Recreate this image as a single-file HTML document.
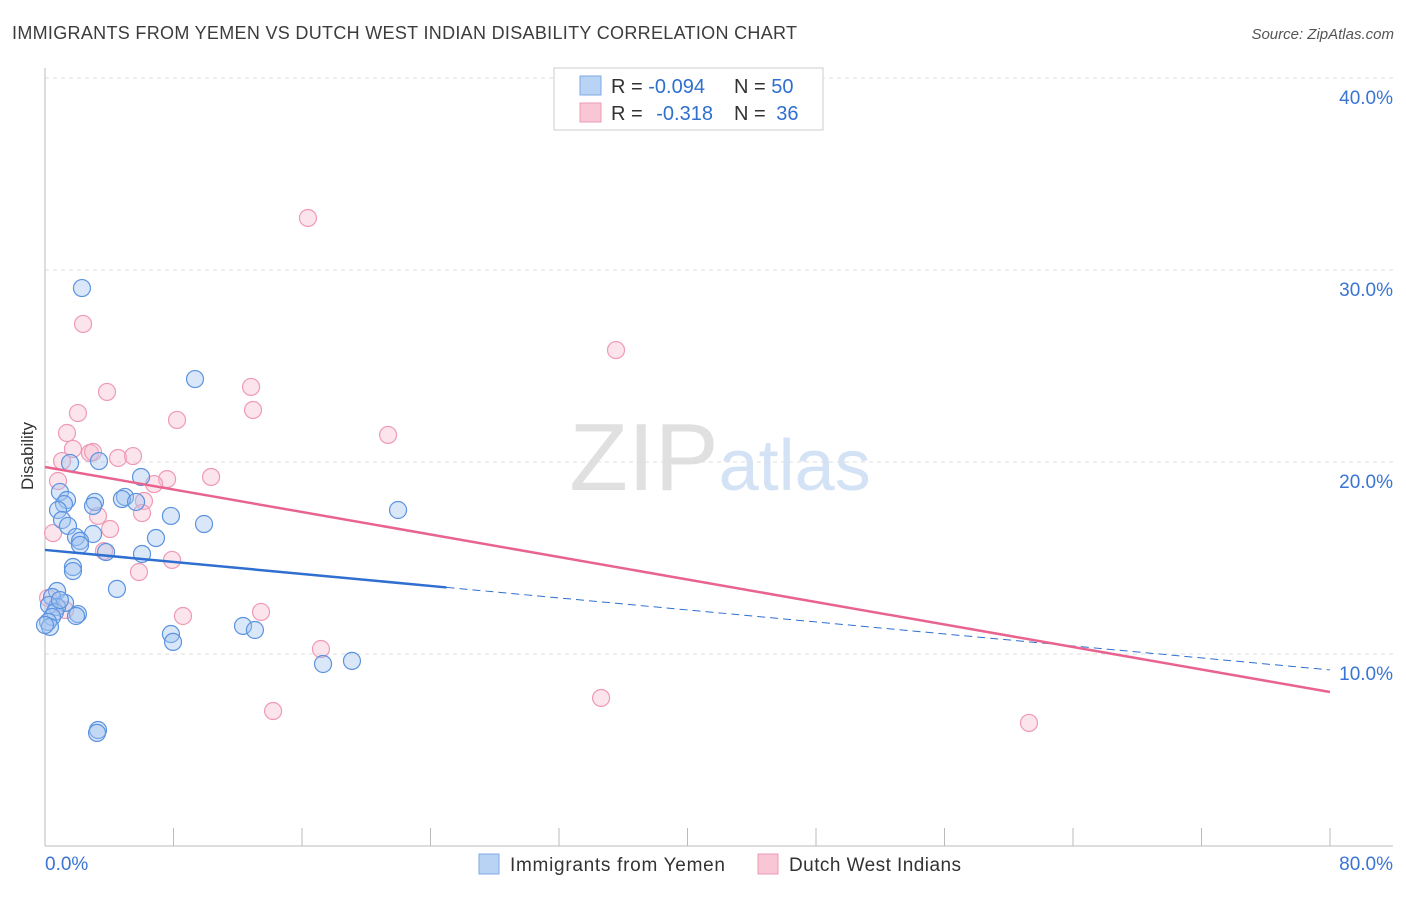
<!DOCTYPE html>
<html><head><meta charset="utf-8"><style>
body{margin:0;background:#fff;font-family:"Liberation Sans",sans-serif;}
svg text{font-family:"Liberation Sans",sans-serif;}
</style></head><body>
<svg id="chart" width="1406" height="892" viewBox="0 0 1406 892" xmlns="http://www.w3.org/2000/svg">
<text x="12" y="39" font-size="18" fill="#3c3c3c" textLength="785">IMMIGRANTS FROM YEMEN VS DUTCH WEST INDIAN DISABILITY CORRELATION CHART</text>
<text x="1394" y="39" font-size="15" fill="#555" text-anchor="end" font-style="italic">Source: ZipAtlas.com</text>
<text x="720" y="490" font-size="96" text-anchor="middle" fill="#e0e0e0" font-family="Liberation Serif"><tspan>ZIP</tspan><tspan fill="#d3e2f4" font-family="Liberation Sans" font-size="72">atlas</tspan></text>
<g id="grid"></g>
<g id="axes"></g>
<g id="marks"></g>
<text transform="translate(33,456) rotate(-90)" font-size="17" fill="#333" text-anchor="middle">Disability</text>
<g>
<rect x="554" y="68" width="269" height="62" fill="#fff" stroke="#ccc"/>
<rect x="580" y="76" width="21" height="19" fill="#b9d3f5" stroke="#7ea9e4"/>
<rect x="580" y="103" width="21" height="19" fill="#f9c6d6" stroke="#ef9ab5"/>
<text x="611" y="93" font-size="20" fill="#333">R = <tspan fill="#2f6fd0">-0.094</tspan></text>
<text x="734" y="93" font-size="20" fill="#333">N = <tspan fill="#2f6fd0">50</tspan></text>
<text x="611" y="120" font-size="20" fill="#333">R = <tspan fill="#2f6fd0" dx="8">-0.318</tspan></text>
<text x="734" y="120" font-size="20" fill="#333">N = <tspan fill="#2f6fd0" dx="5">36</tspan></text>
</g>
<g>
<rect x="479" y="854" width="20" height="20" fill="#b9d3f5" stroke="#7ea9e4"/>
<text x="510" y="871" font-size="19" fill="#333" textLength="215">Immigrants from Yemen</text>
<rect x="758" y="854" width="20" height="20" fill="#f9c6d6" stroke="#ef9ab5"/>
<text x="789" y="871" font-size="19" fill="#333" textLength="172">Dutch West Indians</text>
</g>
</svg>
<script>
const blueX=[2.30,9.34,1.56,3.36,5.98,0.93,1.37,1.18,3.11,2.99,4.98,4.79,5.67,0.81,7.84,9.90,1.06,1.43,2.99,1.93,2.18,2.18,6.91,3.80,6.04,1.74,1.74,4.48,0.75,0.44,1.25,0.75,0.25,0.62,0.44,2.05,1.93,0.19,0.31,12.33,13.07,7.84,7.97,21.98,17.31,19.11,3.30,3.24,0.93,0.0];
const blueY=[29.06,24.32,19.95,20.05,19.22,18.44,18.02,17.81,17.92,17.71,18.18,18.07,17.92,17.50,17.19,16.77,16.98,16.67,16.25,16.09,15.89,15.68,16.04,15.31,15.21,14.53,14.32,13.39,13.28,12.97,12.66,12.45,12.55,12.19,11.93,12.08,11.98,11.67,11.41,11.46,11.25,11.04,10.63,17.50,9.48,9.64,6.04,5.89,12.81,11.51];
const pinkX=[16.37,2.37,35.55,3.86,12.83,2.05,8.22,12.95,1.37,21.36,1.74,2.80,2.99,4.55,5.48,1.06,10.34,7.60,0.81,6.79,6.16,6.04,3.30,4.05,0.50,3.67,7.91,5.85,13.45,8.59,17.18,14.20,34.62,61.26,1.25,0.19];
const pinkY=[32.71,27.19,25.83,23.65,23.91,22.55,22.19,22.71,21.51,21.41,20.68,20.47,20.52,20.21,20.31,20.05,19.22,19.11,19.01,18.85,17.97,17.34,17.19,16.51,16.30,15.36,14.90,14.27,12.19,11.98,10.26,7.03,7.71,6.41,12.29,12.92];
const blueTrend=[15.42,9.17];
const blueSolidEnd=25;
const pinkTrend=[19.74,8.02];
const yTicks=[10,20,30,40];
const yTickLabels=["10.0%","20.0%","30.0%","40.0%"];
const xTicks=[0,8,16,24,32,40,48,56,64,72,80];
const NS="http://www.w3.org/2000/svg";
const X=v=>45+v/80*1285;
const Y=v=>846-v*19.2;
function mk(tag,attrs,parent){const e=document.createElementNS(NS,tag);for(const k in attrs)e.setAttribute(k,attrs[k]);parent.appendChild(e);return e;}
const grid=document.getElementById('grid'),axes=document.getElementById('axes'),marks=document.getElementById('marks');
yTicks.forEach((t,i)=>{
  const l=mk('line',{x1:45,x2:1393,y1:Y(t),y2:Y(t),stroke:'#ddd','stroke-dasharray':'4,4'},grid);
  
  
  const tx=mk('text',{x:1393,y:Y(t)+26,'font-size':19,fill:'#3a74d4','text-anchor':'end'},axes);
  tx.textContent=yTickLabels[i];
  
  
});
const ya=mk('line',{x1:45,x2:45,y1:68,y2:846,stroke:'#bbb'},axes);


const xa=mk('line',{x1:45,x2:1393,y1:846,y2:846,stroke:'#bbb'},axes);


xTicks.forEach(t=>{
  const l=mk('line',{x1:X(t),x2:X(t),y1:828,y2:846,stroke:'#bbb'},axes);
  
  
});
const xl0=mk('text',{x:45,y:870,'font-size':19,fill:'#3a74d4'},axes);xl0.textContent='0.0%';


const xl1=mk('text',{x:1393,y:870,'font-size':19,fill:'#3a74d4','text-anchor':'end'},axes);xl1.textContent='80.0%';


pinkX.forEach((v,i)=>{
  const c=mk('circle',{cx:X(v),cy:Y(pinkY[i]),r:8.5,fill:'rgba(248,187,208,0.4)',stroke:'#ef9ab5','stroke-width':1.2},marks);
  
  
});
blueX.forEach((v,i)=>{
  const c=mk('circle',{cx:X(v),cy:Y(blueY[i]),r:8.5,fill:'rgba(160,196,240,0.4)',stroke:'#5b93e0','stroke-width':1.2},marks);
  
  
});
const bAt=x=>blueTrend[0]+(blueTrend[1]-blueTrend[0])*x/80;
const bs=mk('line',{x1:X(0),y1:Y(bAt(0)),x2:X(blueSolidEnd),y2:Y(bAt(blueSolidEnd)),stroke:'#2f6fd0','stroke-width':2.5},marks);


const bd=mk('line',{x1:X(blueSolidEnd),y1:Y(bAt(blueSolidEnd)),x2:X(80),y2:Y(bAt(80)),stroke:'#2f6fd0','stroke-width':1,'stroke-dasharray':'8,5'},marks);


const pl=mk('line',{x1:X(0),y1:Y(pinkTrend[0]),x2:X(80),y2:Y(pinkTrend[1]),stroke:'#e8648f','stroke-width':2.5},marks);


</script>
</body></html>
